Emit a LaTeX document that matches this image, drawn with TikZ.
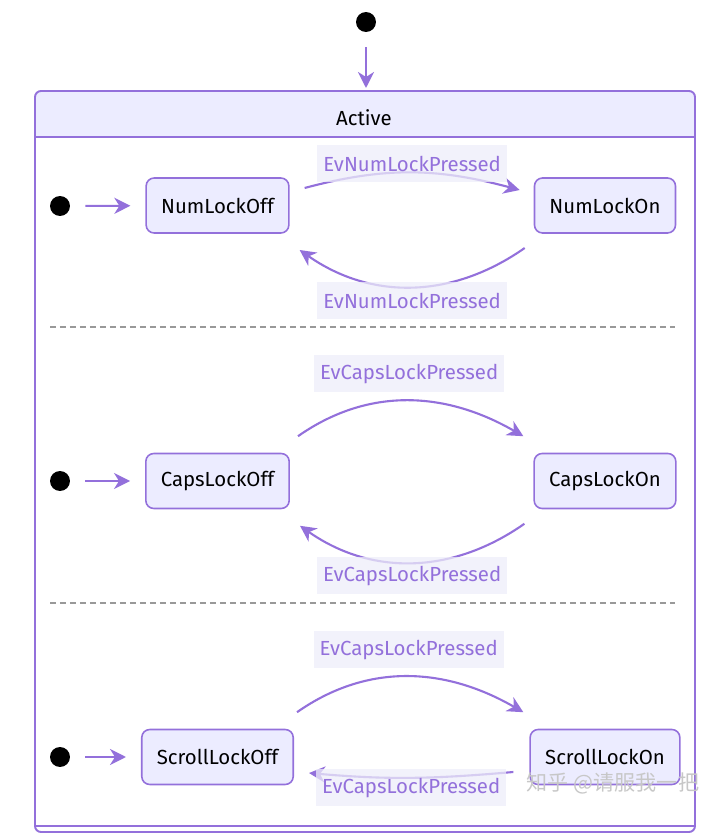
\documentclass[tikz,border=0pt]{standalone}
\usepackage{fontspec}
\setmainfont{Fira Sans}
\setsansfont{Fira Sans}
\newfontfamily\cjkfont{Noto Sans CJK SC}
\usetikzlibrary{arrows.meta}
\definecolor{mborder}{HTML}{9370DB}
\definecolor{mfill}{HTML}{ECECFF}
\definecolor{mlabbg}{HTML}{EDEDF9}
\definecolor{msep}{HTML}{999999}
\begin{document}
\begin{tikzpicture}[x=0.02cm,y=0.02cm,
 state/.style={rectangle,draw=mborder,fill=mfill,line width=0.9pt,rounded corners=0.16cm,minimum height=1.1cm,inner xsep=0.3cm,font=\fontsize{11.6}{13}\selectfont},
 dot/.style={circle,fill=black,minimum size=0.4cm,inner sep=0pt},
 lab/.style={fill=mlabbg,fill opacity=0.75,text opacity=1,text=mborder,minimum width=3.8cm,minimum height=0.74cm,inner sep=1pt,font=\fontsize{11.6}{13}\selectfont},
 trans/.style={draw=mborder,line width=1.2pt,-{Stealth[length=0.32cm,width=0.32cm,inset=0.1cm]}},
 sep/.style={draw=msep,line width=0.8pt,dash pattern=on 0.12cm off 0.08cm}
]
 \useasboundingbox (0,0) rectangle (720,840);
 \begin{scope}
  \clip[rounded corners=0.12cm] (35,8) rectangle (695,749);
  \fill[mfill] (35,703) rectangle (695,749);
 \end{scope}
 \draw[mborder,line width=1.1pt,rounded corners=0.12cm] (35,8) rectangle (695,749);
 \draw[mborder,line width=1.1pt] (35,703) -- (695,703);
 \draw[mborder,line width=1.1pt] (35,14) -- (695,14);
 \node[font=\fontsize{11.6}{13}\selectfont] (active) at (364,722) {Active};
 \node[dot] (start) at (366,818) {};
 \coordinate (acttop) at (366,752);
 \draw[trans,shorten <=0.3cm] (start) -- (acttop);

 \node[dot] (i1) at (60,634) {};
 \node[state] (nloff) at (217.5,634.5) {NumLockOff};
 \node[state] (nlon) at (605,634.5) {NumLockOn};
 \draw[trans,shorten <=0.3cm,shorten >=0.3cm] (i1) -- (nloff);
 \draw[trans] ([shift={(15,17.5)}]nloff.east) to[out=15,in=165]
  node[lab,yshift=0.18cm] {EvNumLockPressed} ([shift={(-14,15.5)}]nlon.west);
 \draw[trans] ([shift={(-9,-42.5)}]nlon.west) to[out=-145,in=-35]
  node[lab,yshift=-0.28cm] {EvNumLockPressed} ([shift={(10,-44.5)}]nloff.east);

 \draw[sep] (50,513) -- (675,513);

 \node[dot] (i2) at (60,359) {};
 \node[state] (cloff) at (217.5,359) {CapsLockOff};
 \node[state] (clon) at (605,359) {CapsLockOn};
 \draw[trans,shorten <=0.3cm,shorten >=0.3cm] (i2) -- (cloff);
 \draw[trans] ([shift={(8,16.5)}]cloff.north east) to[out=35,in=150]
  node[lab,yshift=0.54cm] {EvCapsLockPressed} ([shift={(-10,16.5)}]clon.north west);
 \draw[trans] ([shift={(-9,-14.5)}]clon.south west) to[out=-145,in=-35]
  node[lab,yshift=-0.26cm] {EvCapsLockPressed} ([shift={(10,-16.5)}]cloff.south east);

 \draw[sep] (50,237) -- (675,237);

 \node[dot] (i3) at (60,83) {};
 \node[state] (sloff) at (217.5,83) {ScrollLockOff};
 \node[state] (slon) at (605,83) {ScrollLockOn};
 \draw[trans,shorten <=0.3cm,shorten >=0.3cm] (i3) -- (sloff);
 \draw[trans] ([shift={(3,16.5)}]sloff.north east) to[out=35,in=150]
  node[lab,yshift=0.54cm] {EvCapsLockPressed} ([shift={(-6,16.5)}]slon.north west);
 \draw[trans] ([shift={(-16,-15)}]slon.west) to[out=-175,in=-5]
  node[lab,yshift=-0.2cm] {EvCapsLockPressed} ([shift={(15,-16)}]sloff.east);

 \node[text=black!22,font=\cjkfont\fontsize{12}{14}\selectfont] (wm) at (613,57) {知乎 @请服我一把};
\end{tikzpicture}
\end{document}
